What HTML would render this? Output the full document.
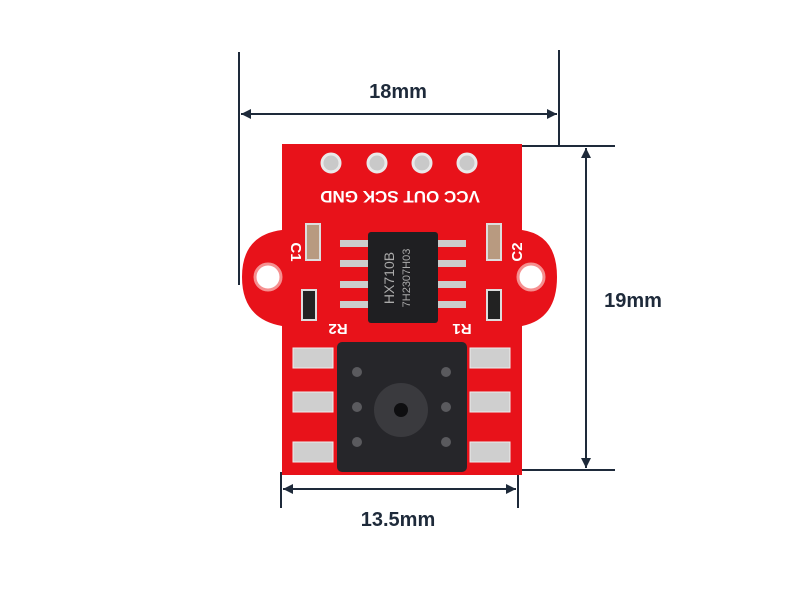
<!DOCTYPE html>
<html><head><style>body{margin:0;background:#fff}svg{display:block}</style></head><body>
<svg width="800" height="600" viewBox="0 0 800 600" xmlns="http://www.w3.org/2000/svg" font-family="Liberation Sans, sans-serif">
<defs>
<marker id="a" viewBox="0 0 10 10" refX="10" refY="5" markerWidth="14" markerHeight="10" orient="auto-start-reverse" markerUnits="userSpaceOnUse"><path d="M0,0L10,5L0,10z" fill="#1e2a3a"/></marker>
</defs>
<g stroke="#1e2a3a" stroke-width="2" fill="none">
<line x1="239" y1="52" x2="239" y2="285"/>
<line x1="559" y1="50" x2="559" y2="146"/>
<line x1="241" y1="114" x2="557" y2="114" marker-start="url(#a)" marker-end="url(#a)"/>
<line x1="520" y1="146" x2="615" y2="146"/>
<line x1="520" y1="470" x2="615" y2="470"/>
<line x1="586" y1="148" x2="586" y2="468" marker-start="url(#a)" marker-end="url(#a)"/>
<line x1="281" y1="472" x2="281" y2="508"/>
<line x1="518" y1="472" x2="518" y2="508"/>
<line x1="283" y1="489" x2="516" y2="489" marker-start="url(#a)" marker-end="url(#a)"/>
</g>
<g fill="#1e2a3a" font-weight="bold" font-size="20" text-anchor="middle">
<text x="398" y="98">18mm</text>
<text x="633" y="307">19mm</text>
<text x="398" y="526">13.5mm</text>
</g>
<path d="M282,144H522V230Q557,235 557,277Q557,319 522,326V475H282V326Q242,319 242,277Q242,235 282,230Z" fill="#e8121a"/>
<g fill="#fff" stroke="#f59090" stroke-width="3">
<circle cx="268" cy="277" r="13"/><circle cx="531" cy="277" r="13"/>
</g>
<g fill="#c9c9c9" stroke="#e9e9e9" stroke-width="3">
<circle cx="331" cy="163" r="9"/><circle cx="377" cy="163" r="9"/><circle cx="422" cy="163" r="9"/><circle cx="467" cy="163" r="9"/>
</g>
<g fill="#fff" font-weight="bold" font-size="17" text-anchor="middle">
<text transform="translate(400,191) rotate(180)">VCC OUT SCK GND</text>
<text transform="translate(291,252) rotate(90)" font-size="15">C1</text>
<text transform="translate(522,252) rotate(-90)" font-size="15">C2</text>
<text transform="translate(338,324) rotate(180)" font-size="15">R2</text>
<text transform="translate(462,324) rotate(180)" font-size="15">R1</text>
</g>
<g fill="#b89a80" stroke="#ddd" stroke-width="2">
<rect x="306" y="224" width="14" height="36"/><rect x="487" y="224" width="14" height="36"/>
</g>
<g fill="#222" stroke="#ddd" stroke-width="2">
<rect x="302" y="290" width="14" height="30"/><rect x="487" y="290" width="14" height="30"/>
</g>
<g fill="#ccc">
<rect x="340" y="240" width="30" height="7"/><rect x="340" y="260" width="30" height="7"/><rect x="340" y="281" width="30" height="7"/><rect x="340" y="301" width="30" height="7"/>
<rect x="436" y="240" width="30" height="7"/><rect x="436" y="260" width="30" height="7"/><rect x="436" y="281" width="30" height="7"/><rect x="436" y="301" width="30" height="7"/>
</g>
<rect x="368" y="232" width="70" height="91" rx="3" fill="#1f1f22"/>
<g fill="#aaa" font-size="14" text-anchor="middle">
<text transform="translate(394,278) rotate(-90)">HX710B</text>
<text transform="translate(410,278) rotate(-90)" font-size="11">7H2307H03</text>
</g>
<g fill="#cfcfcf" stroke="#eee" stroke-width="1">
<rect x="293" y="348" width="40" height="20"/><rect x="293" y="392" width="40" height="20"/><rect x="293" y="442" width="40" height="20"/>
<rect x="470" y="348" width="40" height="20"/><rect x="470" y="392" width="40" height="20"/><rect x="470" y="442" width="40" height="20"/>
</g>
<rect x="337" y="342" width="130" height="130" rx="5" fill="#26262a"/>
<g fill="#5a5a5e"><circle cx="357" cy="372" r="5"/><circle cx="357" cy="407" r="5"/><circle cx="357" cy="442" r="5"/><circle cx="446" cy="372" r="5"/><circle cx="446" cy="407" r="5"/><circle cx="446" cy="442" r="5"/></g>
<circle cx="401" cy="410" r="27" fill="#3a3a3e"/>
<circle cx="401" cy="410" r="7" fill="#0e0e10"/>
</svg>
</body></html>
